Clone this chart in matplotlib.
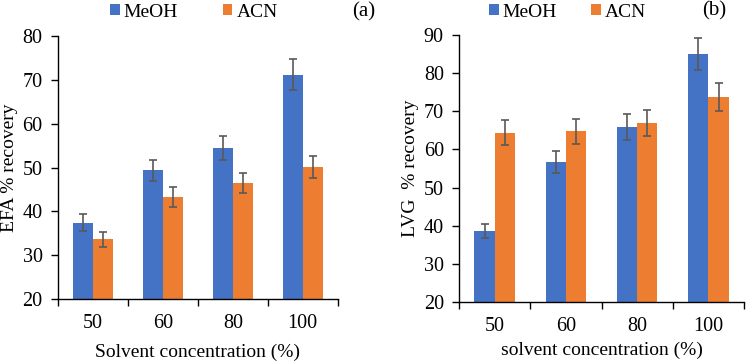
import matplotlib.pyplot as plt
import numpy as np

plt.rcParams['font.family'] = ['Liberation Serif', 'DejaVu Serif']

# Data
concentrations = ['50', '60', '80', '100']
efa_meoh = [37.4, 49.4, 54.5, 71.2]
efa_meoh_err = [1.9, 2.4, 2.8, 3.6]
efa_acn = [33.6, 43.3, 46.5, 50.1]
efa_acn_err = [1.8, 2.2, 2.3, 2.6]
lvg_meoh = [38.6, 56.8, 66.0, 84.9]
lvg_meoh_err = [1.9, 2.9, 3.4, 4.2]
lvg_acn = [64.4, 64.8, 66.9, 73.7]
lvg_acn_err = [3.3, 3.3, 3.5, 3.7]

blue = '#4472C4'
orange = '#ED7D31'
err_color = '#595959'

fig = plt.figure(figsize=(7.54, 3.62), dpi=100)
ax1 = fig.add_axes([0.0769, 0.174, 0.371, 0.7265])
ax2 = fig.add_axes([0.6088, 0.1657, 0.378, 0.7376])

x = np.arange(len(concentrations))
w = 0.285


def draw(ax, meoh, meoh_err, acn, acn_err, ylim, ylabel, xlabel, xpad, tag,
         tag_xy, leg_xy, colspace):
    ax.bar(x - w / 2, meoh, w, color=blue, label='MeOH')
    ax.bar(x + w / 2, acn, w, color=orange, label='ACN')
    ax.errorbar(x - w / 2, meoh, yerr=meoh_err, fmt='none', ecolor=err_color,
                elinewidth=1.2, capsize=3, capthick=1.2)
    ax.errorbar(x + w / 2, acn, yerr=acn_err, fmt='none', ecolor=err_color,
                elinewidth=1.2, capsize=3, capthick=1.2)
    ax.set_xlim(-0.5, len(concentrations) - 0.5)
    ax.set_ylim(*ylim)
    ax.set_yticks(np.arange(ylim[0], ylim[1] + 1, 10))
    ax.set_xticks(x)
    ax.set_xticklabels(concentrations)
    ax.set_xticks(np.arange(-0.5, len(concentrations), 1), minor=True)
    ax.tick_params(axis='x', which='major', length=0, pad=11, labelsize=14.5)
    ax.tick_params(axis='x', which='minor', length=5, width=1)
    ax.tick_params(axis='y', length=5, width=1, labelsize=14.5, pad=6)
    for s in ['top', 'right']:
        ax.spines[s].set_visible(False)
    for s in ['left', 'bottom']:
        ax.spines[s].set_linewidth(1)
    ax.set_ylabel(ylabel, fontsize=14, labelpad=3)
    ax.set_xlabel(xlabel, fontsize=14, labelpad=xpad)
    ax.legend(loc='center left', bbox_to_anchor=leg_xy, ncol=2,
              frameon=False, fontsize=14, handlelength=0.5, handleheight=0.5,
              handletextpad=0.2, columnspacing=colspace, borderaxespad=0,
              borderpad=0)
    ax.text(tag_xy[0], tag_xy[1], tag, transform=ax.transAxes, fontsize=15,
            ha='center', va='center')


draw(ax1, efa_meoh, efa_meoh_err, efa_acn, efa_acn_err, (20, 80),
     'EFA % recovery', 'Solvent concentration (%)', 7.5, '(a)', (1.093, 1.091),
     (0.186, 1.091), 2.3)
draw(ax2, lvg_meoh, lvg_meoh_err, lvg_acn, lvg_acn_err, (20, 90),
     'LVG  % recovery', 'solvent concentration (%)', 4, '(b)', (0.896, 1.09),
     (0.105, 1.086), 1.75)

plt.savefig('out.png', dpi=100)
